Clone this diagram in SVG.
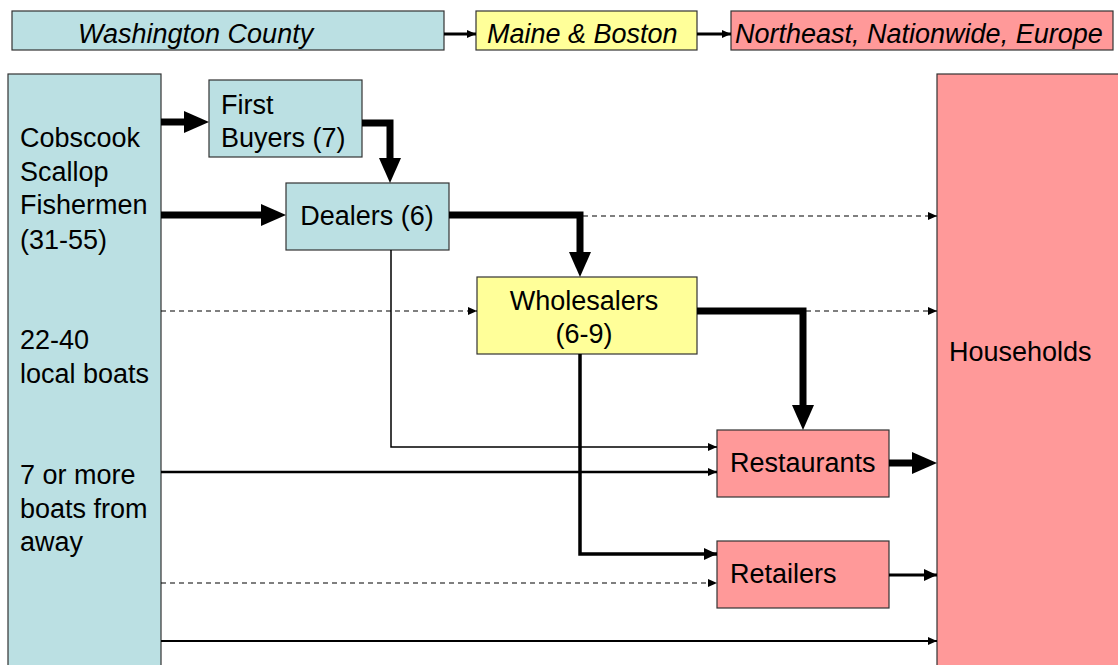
<svg xmlns="http://www.w3.org/2000/svg" width="1118" height="665" viewBox="0 0 1118 665">
<style>
.box{stroke:#333;stroke-width:1.2}
.cy{fill:#BBE0E3}.ye{fill:#FFFF99}.rd{fill:#FF9999}
text{font-family:"Liberation Sans",Arial,sans-serif;font-size:27px;fill:#000}
.it{font-style:italic}
.c{fill:none;stroke:#000}
.thick{stroke-width:7}
.dash{stroke-width:1.2;stroke-dasharray:5 4}
</style>
<defs>
<marker id="big" markerUnits="userSpaceOnUse" markerWidth="26" markerHeight="24" refX="0" refY="11" orient="auto" overflow="visible"><path d="M0,0 L25,11 L0,22 Z" fill="#000"/></marker>
<marker id="sm" markerUnits="userSpaceOnUse" markerWidth="10" markerHeight="10" refX="9" refY="5" orient="auto" overflow="visible"><path d="M0,1 L9,5 L0,9 Z" fill="#000"/></marker>
<marker id="md" markerUnits="userSpaceOnUse" markerWidth="14" markerHeight="14" refX="13" refY="7" orient="auto" overflow="visible"><path d="M0,1 L13,7 L0,13 Z" fill="#000"/></marker>
</defs>
<rect width="1118" height="665" fill="#fff"/>
<g id="washington"><rect class="box cy" x="12" y="11" width="432" height="39"/><text class="it" x="78" y="43">Washington County</text></g>
<g id="maine"><rect class="box ye" x="476" y="11" width="221" height="39"/><text class="it" x="487" y="43">Maine &amp; Boston</text></g>
<g id="northeast"><rect class="box rd" x="731" y="11" width="382" height="39"/><text class="it" x="735" y="43">Northeast, Nationwide, Europe</text></g>
<g id="fishermen"><rect class="box cy" x="8" y="74" width="153" height="600"/>
<text x="20" y="147">Cobscook</text><text x="20" y="181">Scallop</text><text x="20" y="214">Fishermen</text><text x="20" y="249">(31-55)</text>
<text x="20" y="349">22-40</text><text x="20" y="383">local boats</text>
<text x="20" y="484">7 or more</text><text x="20" y="518">boats from</text><text x="20" y="551">away</text></g>
<g id="firstbuyers"><rect class="box cy" x="209" y="80" width="153" height="77"/><text x="221" y="114">First</text><text x="221" y="147">Buyers (7)</text></g>
<g id="dealers"><rect class="box cy" x="286" y="183" width="163" height="67"/><text x="367" y="225" text-anchor="middle">Dealers (6)</text></g>
<g id="wholesalers"><rect class="box ye" x="477" y="277" width="220" height="77"/><text x="584" y="310" text-anchor="middle">Wholesalers</text><text x="584" y="343" text-anchor="middle">(6-9)</text></g>
<g id="restaurants"><rect class="box rd" x="717" y="430" width="172" height="67"/><text x="730" y="472">Restaurants</text></g>
<g id="retailers"><rect class="box rd" x="717" y="541" width="172" height="67"/><text x="730" y="583">Retailers</text></g>
<g id="households"><rect class="box rd" x="937" y="74" width="190" height="600"/><text x="949" y="361">Households</text></g>
<g id="connectors">
<path class="c" stroke-width="3" d="M444,34 H476" marker-end="url(#sm)"/>
<path class="c" stroke-width="3" d="M697,34 H731" marker-end="url(#sm)"/>
<path class="c thick" d="M161,122 H184" marker-end="url(#big)"/>
<path class="c thick" d="M161,215 H261" marker-end="url(#big)"/>
<path class="c thick" d="M362,123 H390 V158" marker-end="url(#big)"/>
<path class="c thick" d="M449,215 H580 V252" marker-end="url(#big)"/>
<path class="c thick" d="M697,311 H803 V405" marker-end="url(#big)"/>
<path class="c thick" d="M889,463 H912" marker-end="url(#big)"/>
<path class="c dash" d="M583,216 H937" marker-end="url(#sm)"/>
<path class="c dash" d="M161,311 H477" marker-end="url(#sm)"/>
<path class="c dash" d="M806,311 H937" marker-end="url(#sm)"/>
<path class="c" stroke-width="1.5" d="M391,250 V447 H717" marker-end="url(#sm)"/>
<path class="c" stroke-width="2.5" d="M161,472 H717" marker-end="url(#sm)"/>
<path class="c" stroke-width="3.5" d="M580,354 V554 H717" marker-end="url(#md)"/>
<path class="c dash" d="M161,583 H717" marker-end="url(#sm)"/>
<path class="c" stroke-width="3" d="M889,575 H937" marker-end="url(#md)"/>
<path class="c" stroke-width="2" d="M161,641 H937" marker-end="url(#sm)"/>
</g>
</svg>
